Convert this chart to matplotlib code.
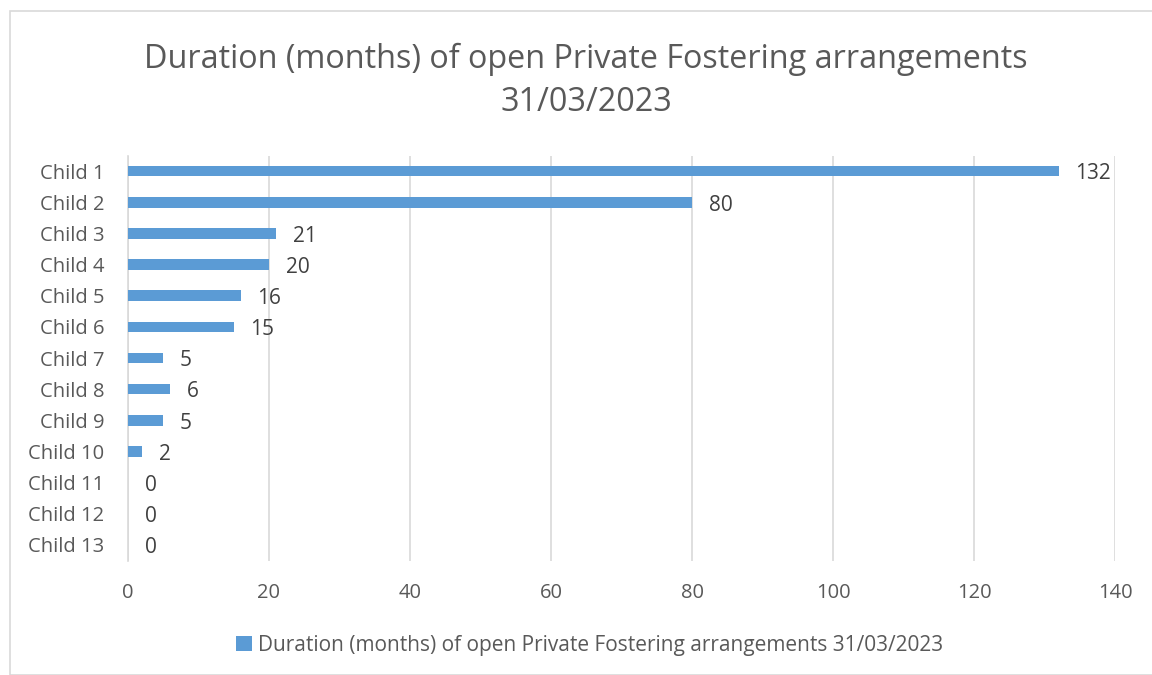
import matplotlib
matplotlib.use("Agg")
import matplotlib.pyplot as plt
from matplotlib.patches import Rectangle

categories = ["Child 1", "Child 2", "Child 3", "Child 4", "Child 5", "Child 6", "Child 7",
              "Child 8", "Child 9", "Child 10", "Child 11", "Child 12", "Child 13"]
values = [132, 80, 21, 20, 16, 15, 5, 6, 5, 2, 0, 0, 0]
xticks = [0, 20, 40, 60, 80, 100, 120, 140]
title = "Duration (months) of open Private Fostering arrangements\n31/03/2023"
series_name = "Duration (months) of open Private Fostering arrangements 31/03/2023"

plt.rcParams['font.family'] = ['Open Sans', 'DejaVu Sans']
TXT = "#595959"
BAR = "#5B9BD5"
GRID = "#D9D9D9"

W, H = 1152, 675
fig = plt.figure(figsize=(W / 100, H / 100), dpi=100)

# chart border
fig.patches.append(Rectangle((10 / W, 0), 1.2, 1 - 11 / H, transform=fig.transFigure,
                             fill=False, edgecolor=GRID, linewidth=1.2))

left, right = 128 / W, 1115 / W
bottom, top = 1 - 560.5 / H, 1 - 155.5 / H
ax = fig.add_axes([left, bottom, right - left, top - bottom])

y = list(range(len(categories)))
bars = ax.barh(y, values, height=0.34, color=BAR, label=series_name, zorder=3)
ax.set_ylim(len(categories) - 0.5, -0.5)
ax.set_xlim(0, 140)
ax.set_xticks(xticks)
ax.set_yticks(y)
ax.set_yticklabels(categories)

for yi, v in zip(y, values):
    ax.annotate(str(v), (v, yi), xytext=(12, -2), textcoords="offset points",
                va="center", ha="left", fontsize=15, color="#404040")

ax.xaxis.grid(True, color=GRID, linewidth=1.2, zorder=0)
ax.set_axisbelow(True)
for s in ["top", "right", "bottom"]:
    ax.spines[s].set_visible(False)
ax.spines["left"].set_color(GRID)
ax.spines["left"].set_linewidth(1.2)
ax.tick_params(axis="x", length=0, labelsize=14.5, labelcolor=TXT, pad=16)
ax.tick_params(axis="y", length=0, labelsize=14.5, labelcolor=TXT, pad=17)

fig.text(586 / W, 1 - 81 / H, title, ha="center", va="center", fontsize=23.3,
         color=TXT, linespacing=1.4)

fig.legend(handles=[bars], labels=[series_name], loc="center", bbox_to_anchor=(590 / W, 1 - 645 / H),
           frameon=False, fontsize=15, labelcolor=TXT, handlelength=0.75, handleheight=0.75,
           handletextpad=0.3)

fig.savefig("out.png", dpi=100)
